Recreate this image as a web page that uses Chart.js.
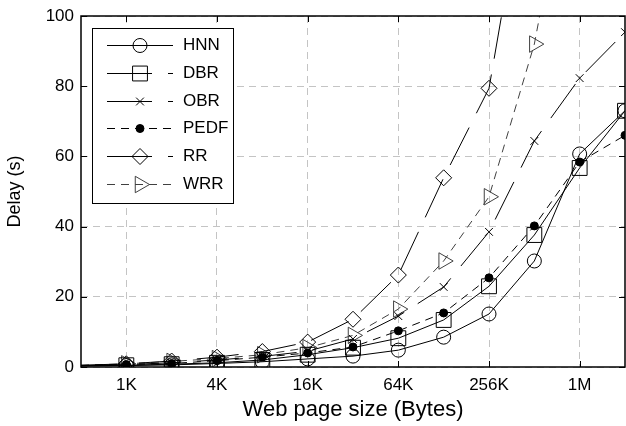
<!DOCTYPE html>
<html>
<head>
<meta charset="utf-8">
<script src="https://cdn.jsdelivr.net/npm/chart.js@4.4.0/dist/chart.umd.min.js"></script>
<style>
  body { margin: 0; background: #fff; }
</style>
</head>
<body>
<canvas id="delayChart" width="626" height="426"></canvas>
<script>
// page sizes in bytes: 512 ... 2M
var pageSizes = [512, 1024, 2048, 4096, 8192, 16384, 32768, 65536, 131072, 262144, 524288, 1048576, 2097152];
var xTickValues = [1024, 4096, 16384, 65536, 262144, 1048576];
var xTickLabels = ['1K', '4K', '16K', '64K', '256K', '1M'];
var yTickValues = [0, 20, 40, 60, 80, 100];

// delay in seconds (null = above the plot)
var hnnDelay  = [0.3, 0.4, 0.6, 1.0, 1.5, 2.3, 3.1, 4.8, 8.5, 15.1, 30.2, 60.7, 73];
var dbrDelay  = [0.3, 0.5, 0.8, 1.2, 2.0, 3.5, 5.5, 8.2, 13.4, 23.0, 37.6, 56.7, 73];
var obrDelay  = [0.4, 0.7, 1.2, 2.0, 3.0, 4.5, 8.0, 14.5, 22.8, 38.5, 64.4, 82.3, 95.4];
var pedfDelay = [0.4, 0.7, 1.0, 1.8, 2.8, 4.0, 5.7, 10.3, 15.4, 25.4, 40.2, 58.4, 66];
var rrDelay   = [0.5, 0.9, 1.7, 2.8, 4.4, 7.1, 13.6, 26.2, 53.9, 79.4, 154, null, null];
var wrrDelay  = [0.5, 0.9, 1.6, 2.4, 3.5, 5.5, 9.0, 16.5, 30.2, 48.5, 92, 160, null];

var FONT = "'Liberation Sans', Arial, Helvetica, sans-serif";
Chart.defaults.font.family = FONT;
Chart.defaults.color = '#000';

function series(values){
    return pageSizes.map(function(s, i){ return {x: s, y: values[i]}; });
}

function makeSet(label, values, style, radius, opts){
    var ds = {
        label: label,
        data: series(values),
        borderColor: '#000',
        borderWidth: 1,
        borderDash: [],
        tension: 0,
        fill: false,
        pointStyle: style,
        pointBorderColor: '#000',
        pointBackgroundColor: 'rgba(0,0,0,0)',
        pointBorderWidth: 1,
        pointRadius: function(ctx){ return ctx.dataIndex === 0 ? 0 : radius; },
        markerRadius: radius
    };
    for(var k in opts){ ds[k] = opts[k]; }
    return ds;
}

var dashDot = [42, 16];
var dashed = [8, 6];

var datasets = [
    makeSet('HNN', hnnDelay, 'circle', 7, {}),
    makeSet('DBR', dbrDelay, 'rect', 10.5, {legendDash: [45, 16]}),
    makeSet('OBR', obrDelay, 'crossRot', 5.5, {borderDash: dashDot, legendDash: [45, 16]}),
    makeSet('PEDF', pedfDelay, 'circle', 4, {borderDash: dashed, pointBackgroundColor: '#000'}),
    makeSet('RR', rrDelay, 'rectRot', 8, {borderDash: dashDot, legendDash: [45, 16]}),
    makeSet('WRR', wrrDelay, 'triangle', 9.5, {borderDash: dashed, borderColor: '#404040',
        pointBorderColor: '#404040', pointRotation: 90})
];

function marker(ctx, ds, x, y){
    ctx.setLineDash([]);
    ctx.lineWidth = 1;
    ctx.strokeStyle = ds.pointBorderColor;
    ctx.fillStyle = ds.pointBackgroundColor;
    Chart.helpers.drawPoint(ctx, {
        pointStyle: ds.pointStyle,
        rotation: ds.pointRotation || 0,
        radius: ds.markerRadius,
        borderWidth: 1
    }, x, y);
}

// axes box, inward ticks and the matlab-like legend
var frameAndLegend = {
    id: 'frameAndLegend',
    afterDraw: function(chart){
        var ctx = chart.ctx;
        var a = chart.chartArea;
        var xs = chart.scales.x, ys = chart.scales.y;
        ctx.save();
        ctx.setLineDash([]);
        ctx.strokeStyle = '#000';
        ctx.lineWidth = 1.5;
        ctx.strokeRect(a.left, a.top, a.right - a.left, a.bottom - a.top);

        ctx.lineWidth = 1;
        ctx.beginPath();
        xTickValues.forEach(function(v){
            var px = Math.round(xs.getPixelForValue(v)) + 0.5;
            ctx.moveTo(px, a.bottom); ctx.lineTo(px, a.bottom - 6);
            ctx.moveTo(px, a.top); ctx.lineTo(px, a.top + 6);
        });
        yTickValues.forEach(function(v){
            var py = Math.round(ys.getPixelForValue(v)) + 0.5;
            ctx.moveTo(a.left, py); ctx.lineTo(a.left + 6, py);
            ctx.moveTo(a.right, py); ctx.lineTo(a.right - 6, py);
        });
        ctx.stroke();

        var bx = a.left + 11, by = a.top + 12, bw = 141, bh = 175;
        ctx.fillStyle = '#fff';
        ctx.fillRect(bx, by, bw, bh);
        ctx.strokeStyle = '#000';
        ctx.strokeRect(bx + 0.5, by + 0.5, bw, bh);

        ctx.font = '17px ' + FONT;
        ctx.textBaseline = 'middle';
        ctx.textAlign = 'left';
        chart.data.datasets.forEach(function(ds, i){
            var y = Math.round(by + 17 + i * 27.8) + 0.5;
            ctx.strokeStyle = ds.borderColor;
            ctx.lineWidth = 1;
            ctx.setLineDash(ds.legendDash || ds.borderDash || []);
            ctx.beginPath();
            ctx.moveTo(bx + 15, y);
            ctx.lineTo(bx + 81, y);
            ctx.stroke();
            marker(ctx, ds, bx + 48, y);
            ctx.fillStyle = '#000';
            ctx.fillText(ds.label, bx + 91, y);
        });
        ctx.restore();
    }
};

new Chart(document.getElementById('delayChart'), {
    type: 'line',
    data: {datasets: datasets},
    options: {
        responsive: false,
        animation: false,
        layout: {autoPadding: false, padding: {top: 16, right: 1, left: 0, bottom: 0}},
        plugins: {
            legend: {display: false},
            tooltip: {enabled: false}
        },
        scales: {
            x: {
                type: 'logarithmic',
                min: 512,
                max: 2097152,
                afterBuildTicks: function(axis){
                    axis.ticks = xTickValues.map(function(v){ return {value: v}; });
                },
                afterFit: function(axis){
                    axis.height = 59;
                    axis.paddingLeft = 0;
                    axis.paddingRight = 0;
                },
                ticks: {
                    autoSkip: false,
                    maxRotation: 0,
                    padding: 8,
                    font: {size: 17},
                    callback: function(v, i){ return xTickLabels[i]; }
                },
                grid: {color: '#c4c4c4', drawTicks: false},
                border: {display: false, dash: [7, 5]},
                title: {display: true, text: 'Web page size (Bytes)', font: {size: 22},
                    padding: {top: 2, bottom: 3}}
            },
            y: {
                min: 0,
                max: 100,
                afterBuildTicks: function(axis){
                    axis.ticks = yTickValues.map(function(v){ return {value: v}; });
                },
                afterFit: function(axis){
                    axis.width = 81;
                    axis.paddingTop = 0;
                    axis.paddingBottom = 0;
                },
                ticks: {padding: 7, font: {size: 17}},
                grid: {color: '#c4c4c4', drawTicks: false},
                border: {display: false, dash: [7, 5]},
                title: {display: true, text: 'Delay (s)', font: {size: 18},
                    padding: {top: 4, bottom: 2}}
            }
        }
    },
    plugins: [frameAndLegend]
});
</script>
</body>
</html>
